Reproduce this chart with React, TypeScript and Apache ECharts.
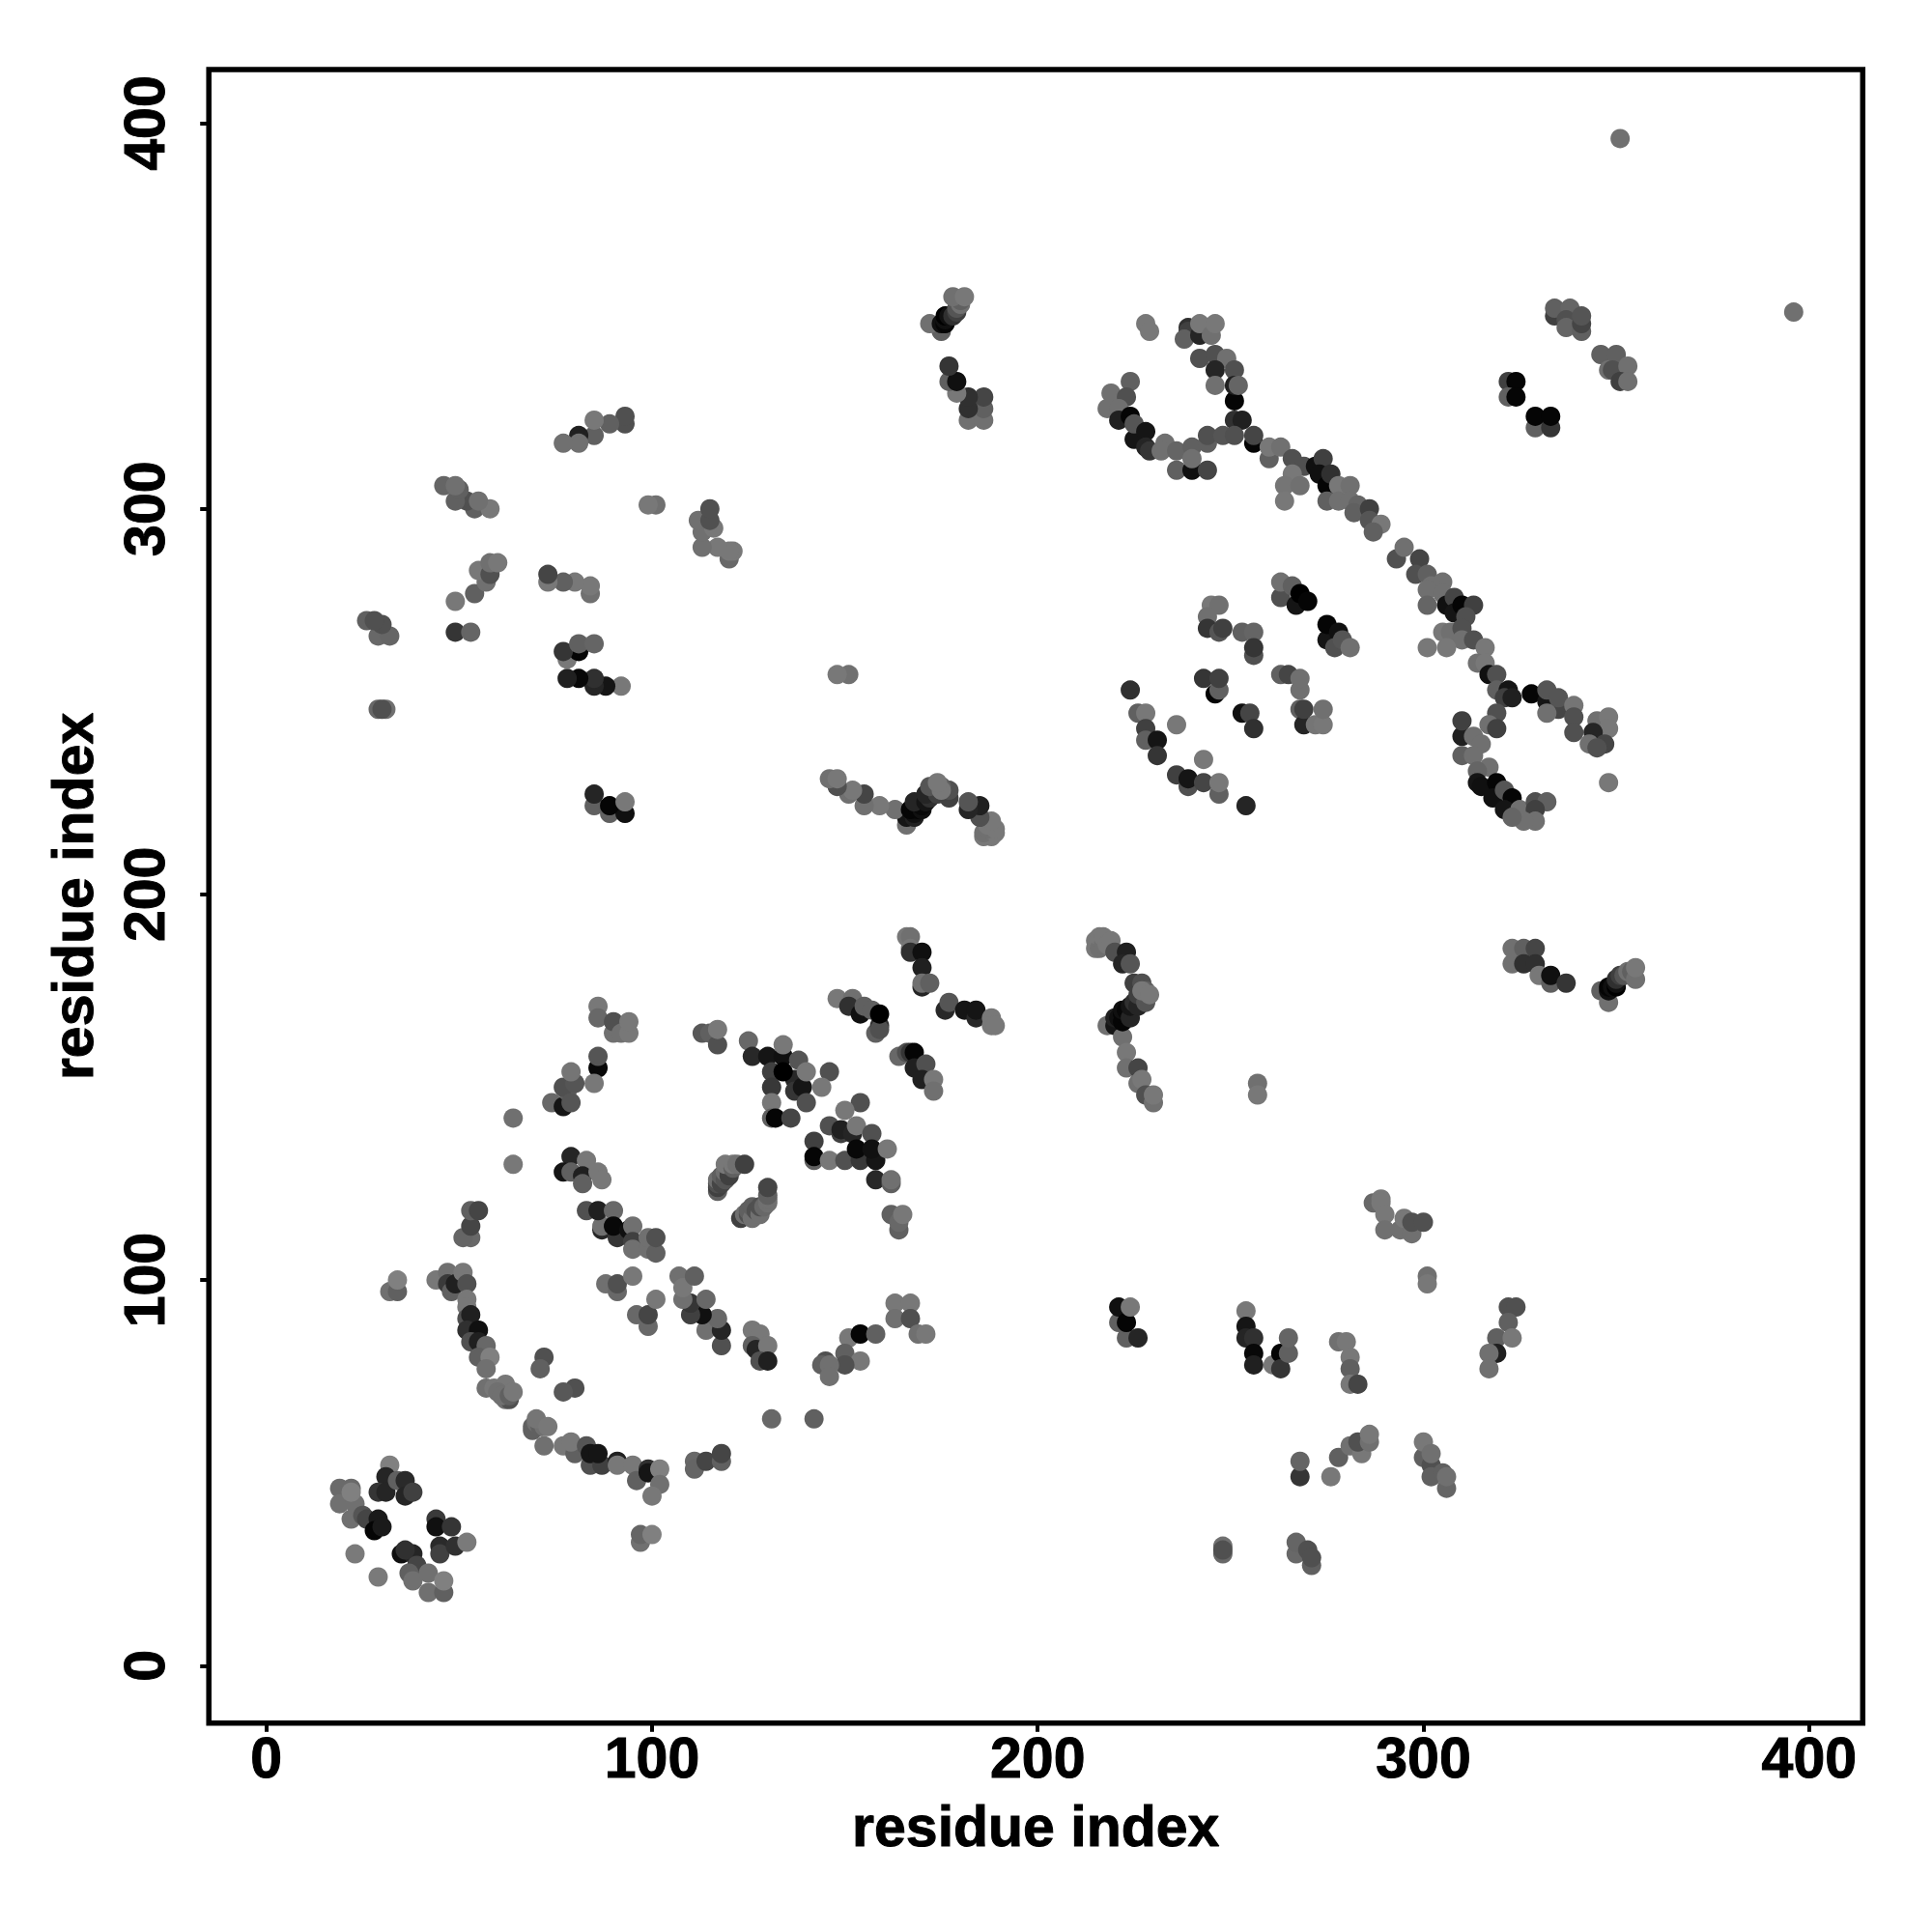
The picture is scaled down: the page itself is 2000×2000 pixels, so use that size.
import React, { useEffect, useRef } from "react";
import * as echarts from "echarts";

const tickValues = [0, 100, 200, 300, 400];
const axisTitle = "residue index";

// [residue x, residue y, grey level]
const lowerBlock = [
[19,46,0x6a],[22,46,0x6a],[19,42,0x70],[23,42,0x70],[22,38,0x70],[22,45,0x80],[25,39,0x55],[26,38,0x45],[29,38,0x1a],[28,35,0x05],[30,36,0x1a],
[32,52,0x80],[31,49,0x25],[29,45,0x35],[31,45,0x25],[34,48,0x60],[36,48,0x2a],[36,44,0x25],[38,45,0x40],
[23,29,0x7a],[29,23,0x7a],[35,29,0x10],[38,29,0x25],[36,30,0x30],[39,26,0x45],[37,24,0x60],[38,22,0x70],[42,24,0x70],[42,19,0x70],[46,19,0x60],[46,22,0x80],
[44,38,0x3a],[44,36,0x10],[48,36,0x35],[45,31,0x2a],[45,29,0x40],[49,31,0x30],[52,32,0x7a],
[32,97,0x70],[34,97,0x60],[34,100,0x80],[97,32,0x70],[97,34,0x65],[100,34,0x80],
[44,100,0x78],[47,102,0x70],[47,99,0x3a],[48,97,0x60],[49,99,0x20],[51,102,0x78],[52,99,0x50],[52,95,0x78],[52,93,0x78],[52,90,0x50],[53,91,0x20],[52,87,0x30],[55,87,0x10],[53,84,0x50],[55,84,0x20],[57,83,0x68],[55,80,0x60],[58,80,0x80],[57,77,0x70],[57,72,0x70],[59,72,0x78],[62,69,0x70],[63,69,0x50],[62,73,0x78],[60,71,0x70],[61,70,0x70],[63,70,0x60],[64,71,0x78],
[72,80,0x50],[71,77,0x60],[80,72,0x50],[77,71,0x58],
[69,62,0x60],[69,61,0x60],[70,63,0x70],[71,62,0x60],[72,62,0x70],[70,64,0x75],[72,57,0x70],[73,62,0x78],[77,57,0x78],[80,55,0x60],[79,58,0x78],[83,57,0x55],[84,52,0x50],[84,55,0x15],[87,52,0x40],[86,55,0x15],[91,53,0x20],[91,52,0x78],[95,52,0x78],[96,48,0x60],[99,51,0x30],[99,50,0x15],[102,51,0x80],[102,47,0x70],[100,44,0x78],
[111,53,0x68],[111,51,0x65],[114,53,0x45],[118,53,0x60],[118,55,0x45],
[53,111,0x68],[51,111,0x65],[53,114,0x45],[53,118,0x60],[55,118,0x45],
[83,118,0x50],[87,113,0x28],[87,114,0x70],[86,118,0x20],[90,118,0x68],[91,111,0x35],[90,114,0x08],[94,113,0x10],[95,114,0x70],[95,110,0x40],[95,108,0x70],[99,108,0x70],[99,111,0x70],[101,107,0x60],[101,111,0x50],
[118,83,0x50],[114,87,0x70],[118,87,0x25],[117,90,0x68],[113,91,0x10],[110,91,0x40],[110,94,0x35],[108,95,0x70],[114,95,0x68],[107,101,0x70],[108,98,0x78],[111,101,0x60],
[88,99,0x70],[91,97,0x68],[91,99,0x50],[95,101,0x78],[96,91,0x68],[99,88,0x68],[99,91,0x45],[101,95,0x78],
[126,87,0x78],[128,86,0x78],[126,83,0x60],[127,82,0x25],[130,83,0x78],[128,79,0x50],[130,79,0x20],
[64,130,0x78],[64,142,0x70],[131,64,0x68],[142,64,0x60],
[79,132,0x25],[77,128,0x15],[79,128,0x60],[83,131,0x78],[82,127,0x20],[82,125,0x60],[86,128,0x78],[87,126,0x78],
[86,171,0x78],[86,168,0x68],[90,164,0x70],[90,167,0x50],[92,164,0x70],[94,164,0x78],[94,167,0x78],
[86,155,0x08],[86,158,0x55],[85,151,0x78],[74,146,0x68],[77,145,0x15],[78,149,0x60],[77,150,0x50],[80,151,0x55],[79,146,0x55],[79,154,0x75],
[113,164,0x58],[115,164,0x60],[117,161,0x50],[117,165,0x78],
[125,162,0x68],[126,158,0x28],[130,158,0x15],[134,158,0x10],[134,161,0x78],[138,157,0x55],[131,154,0x40],[131,150,0x38],[137,152,0x28],[137,149,0x35],[139,150,0x15],[134,154,0x00],[140,154,0x78],[146,154,0x50],[144,150,0x78],[131,146,0x78],[140,146,0x50],[131,142,0x60],[132,142,0x05],[136,142,0x45],
[154,146,0x50],[150,144,0x78],[146,140,0x50],[149,138,0x40],[149,139,0x20],[152,138,0x25],[153,140,0x78],[157,138,0x50],[142,136,0x40],[142,131,0x60],[142,132,0x05],[146,131,0x78],[150,131,0x50],[154,131,0x38],[153,134,0x08],[158,131,0x15],[157,134,0x10],[161,134,0x78],[158,126,0x28],[162,125,0x60],[162,126,0x70],
[162,117,0x60],[164,113,0x60],[164,115,0x68],[165,117,0x78],
[117,123,0x60],[117,124,0x40],[117,125,0x50],[117,126,0x70],[118,125,0x45],[118,127,0x60],[119,126,0x55],[119,128,0x70],[120,128,0x50],[120,127,0x40],[119,130,0x78],[121,129,0x60],[121,130,0x78],[122,130,0x70],[124,130,0x40],
[123,116,0x40],[124,117,0x70],[125,117,0x50],[125,118,0x60],[126,116,0x70],[126,119,0x60],[127,118,0x50],[128,117,0x70],[128,119,0x50],[129,119,0x68],[130,120,0x70],[130,121,0x70],[130,122,0x60],[130,124,0x45],
[166,189,0x78],[167,189,0x70],[167,186,0x78],[167,185,0x30],[170,185,0x10],[170,181,0x20],[170,176,0x25],[170,177,0x70],[172,177,0x60],
[148,173,0x78],[152,173,0x70],[151,171,0x30],[154,169,0x10],[155,171,0x60],[157,170,0x60],[158,164,0x60],[159,166,0x30],[159,165,0x50],[159,169,0x00],
[176,170,0x28],[177,172,0x55],[181,170,0x15],[184,168,0x28],[184,170,0x15],[188,168,0x78],[188,166,0x78],[189,166,0x78],
[164,158,0x68],[166,159,0x50],[167,159,0x35],[168,159,0x05],[168,155,0x20],[171,156,0x50],[170,152,0x20],[173,152,0x78],[173,149,0x70],
[163,94,0x78],[167,94,0x78],[163,90,0x70],[167,90,0x50],[169,86,0x70],[171,86,0x78],
[151,85,0x78],[154,86,0x05],[158,86,0x60],[150,81,0x60],[154,79,0x78],[150,78,0x50],[145,79,0x50],[144,78,0x60],[146,78,0x70],[146,75,0x70],
];

const upperBlock = [
[228,348,0x78],[229,346,0x78],[239,347,0x30],[239,346,0x40],[238,344,0x60],[242,345,0x25],[242,348,0x78],[245,345,0x70],[246,348,0x78],
[242,339,0x50],[246,340,0x50],[249,339,0x70],[246,336,0x25],[251,336,0x50],[246,332,0x70],[251,328,0x05],[251,332,0x20],[252,332,0x65],
[224,333,0x60],[219,330,0x70],[223,329,0x50],[218,326,0x70],[221,326,0x70],[221,323,0x20],[224,324,0x05],[225,318,0x15],[225,322,0x55],[228,320,0x15],[228,316,0x25],[229,315,0x35],[233,317,0x70],[232,315,0x70],[236,315,0x65],[240,316,0x60],[236,310,0x60],[240,310,0x10],[240,313,0x70],[244,310,0x45],[244,317,0x60],[244,319,0x50],[248,319,0x55],
[251,323,0x30],[253,323,0x20],[251,319,0x50],[256,317,0x05],[256,319,0x45],[260,313,0x60],[260,316,0x78],[263,316,0x70],[266,313,0x50],[269,311,0x50],[272,311,0x10],[274,313,0x40],[266,309,0x78],[264,306,0x75],[268,306,0x70],[264,302,0x78],
[273,309,0x10],[275,306,0x05],[276,309,0x30],[278,306,0x78],[281,306,0x70],[275,302,0x60],[278,302,0x70],[281,302,0x70],[283,301,0x65],[282,299,0x60],[286,300,0x40],[286,297,0x55],[289,296,0x78],[287,294,0x60],
[293,287,0x50],[295,290,0x70],[299,287,0x45],[298,283,0x50],[301,283,0x60],[305,281,0x70],[302,280,0x70],[301,279,0x70],[305,278,0x70],[301,275,0x65],[306,275,0x10],[308,277,0x45],[308,273,0x15],[310,275,0x05],[313,275,0x40],[311,272,0x50],
[305,268,0x78],[307,268,0x70],[310,269,0x50],[310,266,0x70],[313,266,0x50],[301,264,0x78],[306,264,0x78],
[316,264,0x78],[314,260,0x70],[316,260,0x78],[317,257,0x10],[319,257,0x50],[319,253,0x60],[322,253,0x15],[321,251,0x40],[323,251,0x20],[328,252,0x05],[332,250,0x15],[332,253,0x55],[335,248,0x45],[335,251,0x55],[339,249,0x75],[339,246,0x50],[339,242,0x50],[332,247,0x70],
[319,247,0x50],[317,244,0x70],[319,243,0x40],[310,241,0x20],[310,245,0x40],[313,241,0x70],[315,239,0x70],[310,236,0x60],[313,236,0x70],[317,233,0x70],[314,232,0x65],[314,229,0x15],[315,228,0x10],[319,229,0x05],[318,225,0x10],[321,227,0x55],[323,225,0x05],[321,222,0x15],[325,222,0x70],[329,224,0x50],[332,224,0x60],[329,222,0x40],[329,219,0x70],[326,219,0x70],[323,220,0x65],
[345,245,0x70],[348,246,0x78],[348,243,0x78],[344,242,0x25],[347,239,0x45],[343,239,0x70],[345,238,0x50],[348,229,0x78],
[334,350,0x40],[334,352,0x60],[338,352,0x65],[337,349,0x50],[337,347,0x65],[341,346,0x60],[341,348,0x45],[341,350,0x55],
[346,340,0x60],[350,340,0x60],[348,336,0x70],[349,336,0x50],[353,337,0x70],[351,333,0x40],[353,333,0x70],
[322,333,0x40],[324,333,0x05],[322,329,0x60],[324,329,0x05],[329,321,0x60],[333,321,0x35],[329,324,0x05],[333,324,0x05],
[245,275,0x78],[247,275,0x70],[244,272,0x70],[244,269,0x35],[247,268,0x55],[248,269,0x40],
[253,268,0x60],[256,268,0x65],[256,262,0x50],[256,264,0x35],
[263,277,0x50],[263,281,0x70],[266,280,0x60],[267,275,0x15],[268,278,0x00],[270,276,0x05],
[275,266,0x15],[275,270,0x05],[278,268,0x10],[277,264,0x50],[279,266,0x55],[281,264,0x70],
[224,253,0x30],[243,256,0x35],[246,252,0x05],[247,253,0x60],[247,256,0x40],
[263,257,0x60],[265,257,0x45],[268,253,0x70],[268,256,0x70],
[253,247,0x10],[255,247,0x45],[256,243,0x30],
[268,248,0x60],[269,244,0x25],[269,248,0x40],[272,244,0x75],[274,244,0x78],[274,248,0x70],
[226,247,0x60],[228,247,0x78],[228,243,0x40],[228,240,0x60],[231,240,0x15],[231,236,0x35],[236,244,0x78],[243,235,0x78],
[236,231,0x40],[239,228,0x50],[239,230,0x15],[243,229,0x45],[247,226,0x60],[247,229,0x78],[254,223,0x25],
];

// read in the lower-right block; each residue pair also appears mirrored in the upper-left block
const crossBlock = [
[215,186,0x78],[215,188,0x78],[216,186,0x70],[216,189,0x78],[217,187,0x70],[217,189,0x78],[218,187,0x78],[219,188,0x78],[220,185,0x50],[223,185,0x20],[222,182,0x25],[224,182,0x55],
[218,166,0x70],[220,166,0x15],[220,168,0x20],[221,168,0x10],[222,163,0x70],[222,167,0x05],[222,169,0x05],[222,170,0x10],[223,170,0x08],[224,168,0x25],[224,171,0x15],[225,172,0x30],[225,177,0x40],[226,171,0x25],[226,174,0x40],[227,177,0x50],[228,172,0x55],[228,175,0x60],[227,175,0x78],[229,174,0x78],
[223,159,0x78],[223,155,0x70],[226,155,0x45],[226,151,0x70],[227,152,0x78],[228,148,0x50],[230,146,0x70],[230,148,0x78],
[257,151,0x70],[257,148,0x78],
[323,182,0x70],[323,186,0x70],[326,186,0x60],[329,186,0x45],[326,182,0x30],[329,182,0x30],[330,179,0x78],[333,177,0x60],[333,179,0x10],[337,177,0x35],
[346,175,0x60],[348,172,0x70],[348,175,0x10],[348,176,0x05],[349,176,0x10],[350,176,0x00],[350,177,0x10],[350,178,0x30],[351,179,0x40],[352,179,0x55],[353,180,0x70],[354,180,0x60],[355,178,0x70],[355,181,0x78],
[287,120,0x68],[289,121,0x78],[289,120,0x78],[290,117,0x78],[290,113,0x70],[294,113,0x70],[295,116,0x78],[297,112,0x70],[297,115,0x50],[300,115,0x50],
[301,101,0x70],[301,99,0x78],
[221,89,0x60],[221,93,0x10],[223,85,0x60],[223,89,0x05],[224,93,0x78],[226,85,0x25],
[254,92,0x78],[254,88,0x15],[254,85,0x25],[256,85,0x30],[256,81,0x08],[256,78,0x20],[261,78,0x78],[263,81,0x05],[263,77,0x35],[265,81,0x60],[265,85,0x65],
[278,84,0x70],[280,84,0x78],[281,80,0x78],[281,77,0x60],[281,73,0x78],[283,73,0x45],
[322,93,0x50],[324,93,0x50],[322,89,0x60],[319,85,0x60],[323,85,0x78],[319,81,0x20],[317,81,0x70],[317,77,0x70],
[268,49,0x35],[268,53,0x65],
[276,49,0x78],[278,54,0x60],[281,57,0x70],[284,55,0x78],[283,58,0x50],[286,58,0x70],[286,60,0x78],
[300,54,0x60],[302,52,0x50],[300,58,0x78],[302,55,0x70],[302,49,0x60],[305,50,0x60],[306,46,0x65],[306,49,0x70],
[248,29,0x68],[248,31,0x70],[248,30,0x50],
[267,29,0x68],[267,32,0x65],[270,30,0x50],[271,26,0x60],[271,28,0x50],
[351,396,0x70],
];

const grey = (g: number) => `rgb(${g},${g},${g})`;
const point = (x: number, y: number, g: number) => ({ value: [x, y], itemStyle: { color: grey(g) } });

const font = "'Liberation Sans', Arial, sans-serif";
const labelStyle = { color: "#000", fontFamily: font, fontWeight: "bold" as const, fontSize: 59, textBorderColor: "#000", textBorderWidth: 1 };

function axis(extra: object) {
  return {
    type: "value",
    min: -14.9,
    max: 413.9,
    name: axisTitle,
    nameLocation: "middle",
    nameTextStyle: labelStyle,
    splitLine: { show: false },
    axisLine: { show: false, onZero: false },
    axisTick: { show: true, length: 9, lineStyle: { color: "#000", width: 4 }, customValues: tickValues },
    ...extra,
  };
}

export default function App() {
  const ref = useRef<HTMLDivElement>(null);
  useEffect(() => {
    const chart = echarts.init(ref.current!, null, { renderer: "svg" });
    const data = [
      ...lowerBlock.map(([x, y, g]) => point(x, y, g)),
      ...upperBlock.map(([x, y, g]) => point(x, y, g)),
      ...crossBlock.map(([x, y, g]) => point(x, y, g)),
      ...crossBlock.map(([x, y, g]) => point(y, x, g)),
    ];
    chart.setOption({
      animation: false,
      backgroundColor: "#fff",
      grid: { left: 216.2, top: 72, width: 1712.1, height: 1711.8, show: true, borderColor: "#000", borderWidth: 5.5, backgroundColor: "transparent" },
      xAxis: axis({
        nameGap: 78,
        axisLabel: { ...labelStyle, margin: 7, customValues: tickValues, formatter: (v: number) => String(v) },
      }),
      yAxis: axis({
        nameGap: 111,
        axisLabel: { ...labelStyle, margin: 37, rotate: 90, customValues: tickValues, formatter: (v: number) => String(v) },
      }),
      series: [{ type: "scatter", symbol: "circle", symbolSize: 20, data, clip: false, itemStyle: { opacity: 1 } }],
    });
    return () => chart.dispose();
  }, []);
  return <div ref={ref} style={{ position: "absolute", left: 0, top: 0, width: 2000, height: 2000 }} />;
}
